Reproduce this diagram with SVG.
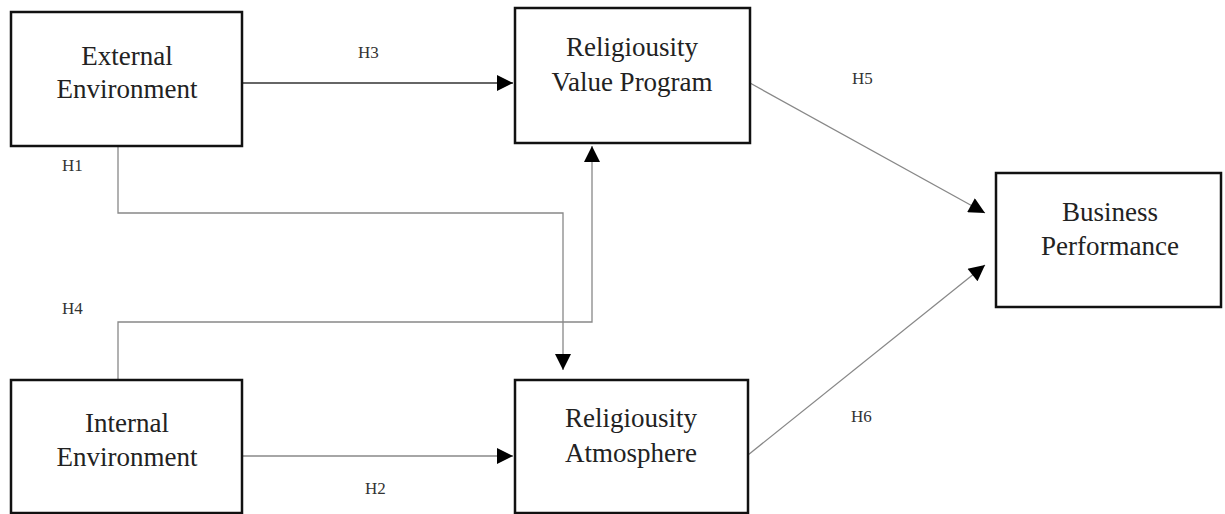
<svg xmlns="http://www.w3.org/2000/svg" width="1225" height="514" viewBox="0 0 1225 514">
<style>
.box{fill:#fff;stroke:#111;stroke-width:2.5}
.t{font-family:"Liberation Serif","Times New Roman",serif;font-size:27px;fill:#222;text-anchor:middle}
.lb{font-family:"Liberation Serif","Times New Roman",serif;font-size:17px;fill:#333}
.c{fill:none;stroke:#888;stroke-width:1.3}
.k{fill:none;stroke:#333;stroke-width:1.3}
</style>
<defs>
<marker id="ah" viewBox="0 0 10 10" refX="10" refY="5" markerWidth="18" markerHeight="16" markerUnits="userSpaceOnUse" orient="auto">
<path d="M0,0 L10,5 L0,10 Z" fill="#000"/>
</marker>
</defs>
<g id="connectors">
<path class="k" d="M242,83 L513,83" marker-end="url(#ah)"/>
<path class="c" d="M118,146 L118,213 L563,213 L563,370" marker-end="url(#ah)"/>
<path class="c" d="M118,380 L118,322 L592,322 L592,146" marker-end="url(#ah)"/>
<path class="c" d="M242,456 L513,456" marker-end="url(#ah)"/>
<path class="c" d="M750,83 L985,213" marker-end="url(#ah)"/>
<path class="c" d="M748,455 L985,265" marker-end="url(#ah)"/>
</g>
<g id="labels">
<text class="lb" x="358" y="58">H3</text>
<text class="lb" x="852" y="84">H5</text>
<text class="lb" x="62" y="171">H1</text>
<text class="lb" x="62" y="314">H4</text>
<text class="lb" x="851" y="422">H6</text>
<text class="lb" x="365" y="494">H2</text>
</g>
<g id="external">
<rect class="box" x="11" y="12" width="231" height="134"/>
<text class="t" x="127" y="65">External</text>
<text class="t" x="127" y="98">Environment</text>
</g>
<g id="internal">
<rect class="box" x="11" y="380" width="231" height="133"/>
<text class="t" x="127" y="432">Internal</text>
<text class="t" x="127" y="466">Environment</text>
</g>
<g id="rvp">
<rect class="box" x="515" y="8" width="235" height="135"/>
<text class="t" x="632" y="56">Religiousity</text>
<text class="t" x="632" y="91">Value Program</text>
</g>
<g id="ra">
<rect class="box" x="515" y="380" width="233" height="133"/>
<text class="t" x="631" y="427">Religiousity</text>
<text class="t" x="631" y="462">Atmosphere</text>
</g>
<g id="bp">
<rect class="box" x="996" y="173" width="225" height="134"/>
<text class="t" x="1110" y="221">Business</text>
<text class="t" x="1110" y="255">Performance</text>
</g>
</svg>
